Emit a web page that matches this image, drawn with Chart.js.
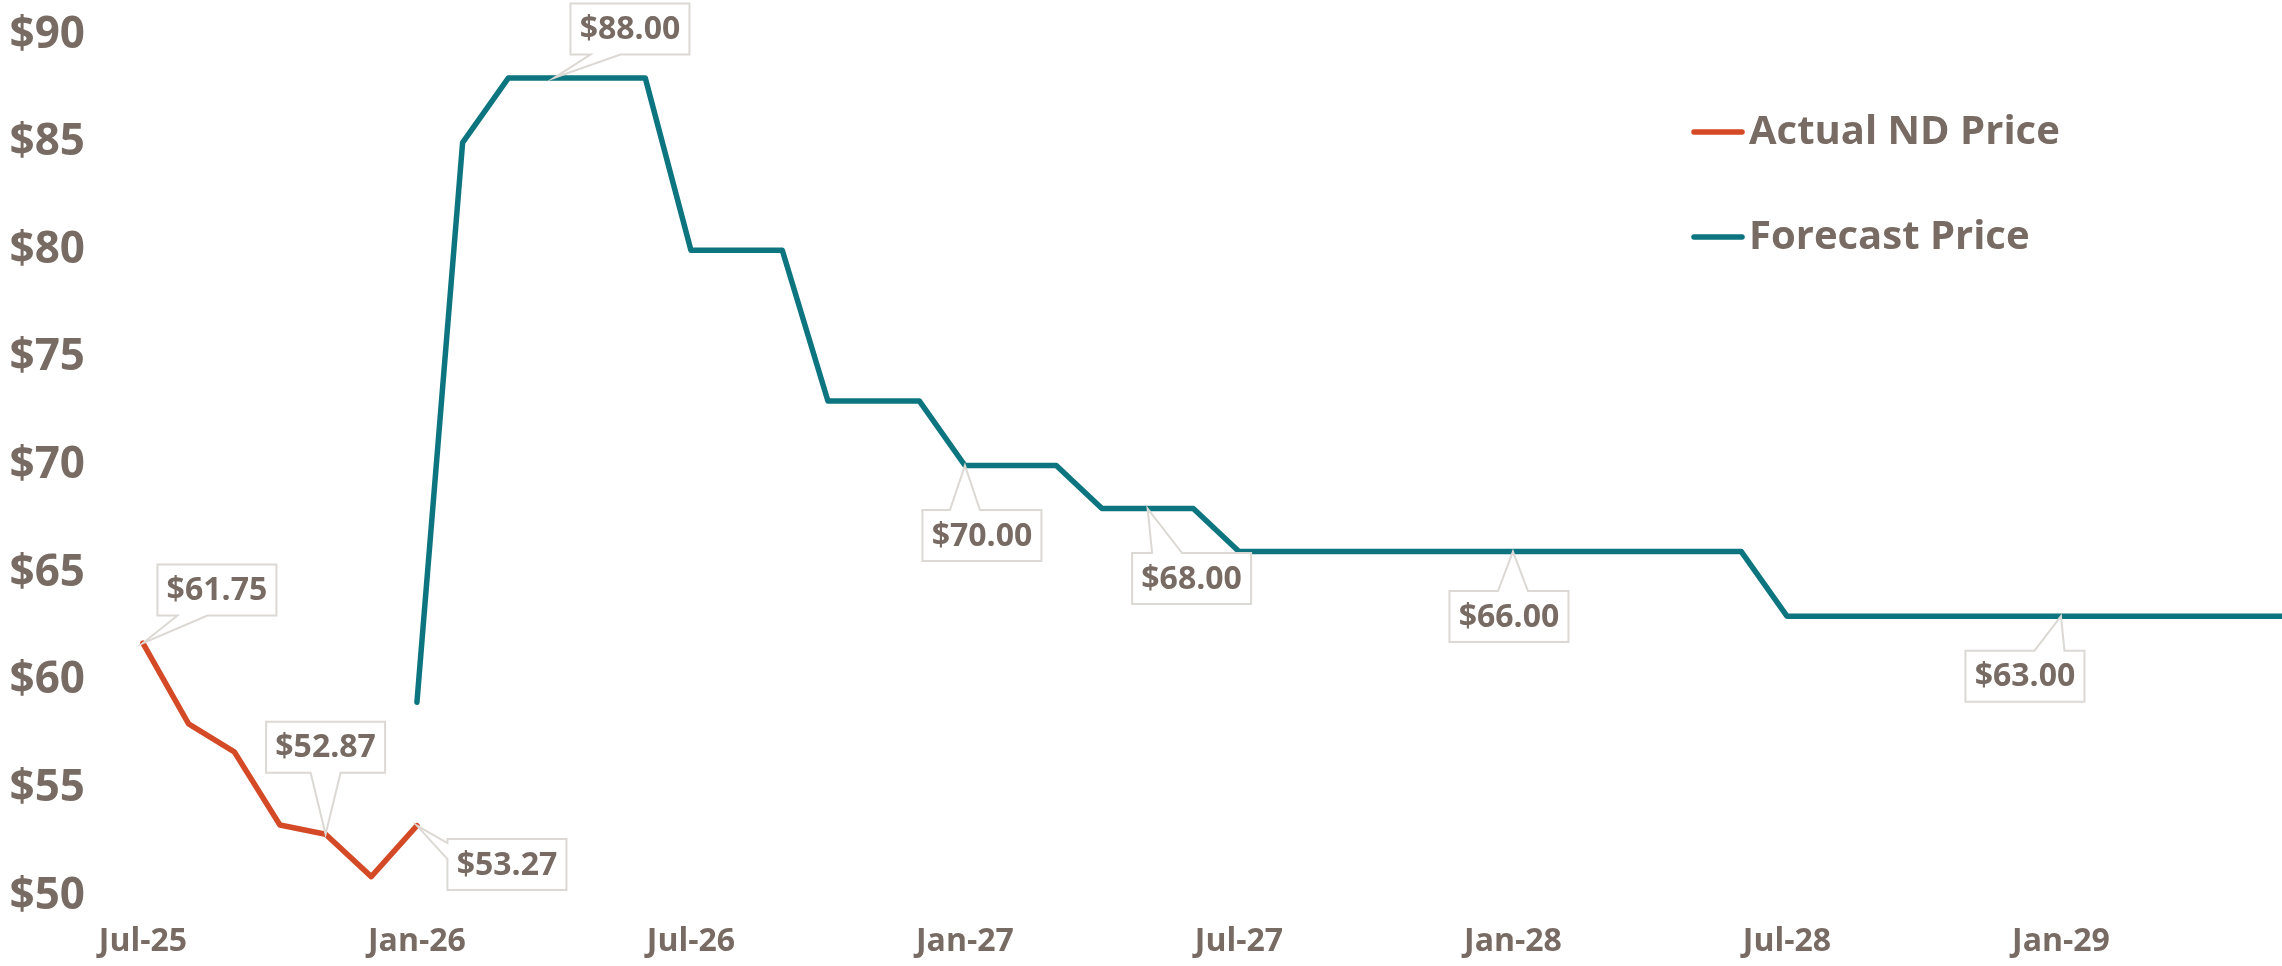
<!DOCTYPE html>
<html lang="en">
<head>
<meta charset="UTF-8">
<title>ND Price</title>
<script src="https://cdn.jsdelivr.net/npm/chart.js"></script>
<style>
  html, body { margin: 0; padding: 0; background: #ffffff; overflow: hidden; }
</style>
</head>
<body>
<canvas id="priceChart" width="2282" height="966"></canvas>
<script>
// monthly axis, Jul-25 .. Jun-29
var months = [
  'Jul-25','Aug-25','Sep-25','Oct-25','Nov-25','Dec-25',
  'Jan-26','Feb-26','Mar-26','Apr-26','May-26','Jun-26',
  'Jul-26','Aug-26','Sep-26','Oct-26','Nov-26','Dec-26',
  'Jan-27','Feb-27','Mar-27','Apr-27','May-27','Jun-27',
  'Jul-27','Aug-27','Sep-27','Oct-27','Nov-27','Dec-27',
  'Jan-28','Feb-28','Mar-28','Apr-28','May-28','Jun-28',
  'Jul-28','Aug-28','Sep-28','Oct-28','Nov-28','Dec-28',
  'Jan-29','Feb-29','Mar-29','Apr-29','May-29','Jun-29'
];

var actualPrice = [61.75, 58.0, 56.7, 53.3, 52.87, 50.9, 53.27];

var forecastPrice = [
  null, null, null, null, null, null,
  59, 85, 88, 88, 88, 88,
  80, 80, 80, 73, 73, 73,
  70, 70, 70, 68, 68, 68,
  66, 66, 66, 66, 66, 66,
  66, 66, 66, 66, 66, 66,
  63, 63, 63, 63, 63, 63,
  63, 63, 63, 63, 63, 63
];

var yTicks = [50, 55, 60, 65, 70, 75, 80, 85, 90];
var xTickMonths = ['Jul-25', 'Jan-26', 'Jul-26', 'Jan-27', 'Jul-27', 'Jan-28', 'Jul-28', 'Jan-29'];

// which points get a value callout
var labelledActual = ['Jul-25', 'Nov-25', 'Jan-26'];
var labelledForecast = ['Apr-26', 'Jan-27', 'May-27', 'Jan-28', 'Jan-29'];

// callout box offsets from the point (px)
var calloutOffsets = {
  'actual:Jul-25': [74, -53],
  'actual:Nov-25': [0, -87],
  'actual:Jan-26': [90, 39],
  'forecast:Apr-26': [76, -49],
  'forecast:Jan-27': [17, 70],
  'forecast:May-27': [44, 70],
  'forecast:Jan-28': [-4, 65],
  'forecast:Jan-29': [-36, 60]
};

var textColor = '#776b63';
var fontFamily = '"Open Sans", "Noto Sans", sans-serif';

function toPoints(arr) {
  return months.map(function (m, i) {
    return { x: i, y: (i < arr.length && arr[i] !== null) ? arr[i] : null };
  });
}

function clamp(v, a, b) { return Math.max(a, Math.min(b, v)); }

function calloutPath(ctx, L, T, W, H, px, py) {
  var R = L + W, B = T + H, cx = L + W / 2, cy = T + H / 2;
  var ox = Math.max(0, Math.abs(px - cx) - W / 2);
  var oy = Math.max(0, Math.abs(py - cy) - H / 2);
  var edge;
  if (oy >= ox) edge = py < cy ? 'top' : 'bottom';
  else edge = px < cx ? 'left' : 'right';
  var c;
  ctx.beginPath();
  ctx.moveTo(L, T);
  if (edge === 'top') { c = clamp(px, L + 35, R - 35); ctx.lineTo(c - 15, T); ctx.lineTo(px, py); ctx.lineTo(c + 15, T); }
  ctx.lineTo(R, T);
  if (edge === 'right') { c = clamp(py, T + 12, B - 12); ctx.lineTo(R, c - 8); ctx.lineTo(px, py); ctx.lineTo(R, c + 8); }
  ctx.lineTo(R, B);
  if (edge === 'bottom') { c = clamp(px, L + 35, R - 35); ctx.lineTo(c + 15, B); ctx.lineTo(px, py); ctx.lineTo(c - 15, B); }
  ctx.lineTo(L, B);
  if (edge === 'left') { c = clamp(py, T + 12, B - 12); ctx.lineTo(L, c + 8); ctx.lineTo(px, py); ctx.lineTo(L, c - 8); }
  ctx.closePath();
}

var calloutPlugin = {
  id: 'callouts',
  afterDatasetsDraw: function (chart) {
    var ctx = chart.ctx;
    var xs = chart.scales.x, ys = chart.scales.y;
    var groups = [['actual', actualPrice, labelledActual], ['forecast', forecastPrice, labelledForecast]];
    ctx.save();
    ctx.font = 'bold 32px ' + fontFamily;
    groups.forEach(function (g) {
      g[2].forEach(function (m) {
        var i = months.indexOf(m);
        var v = g[1][i];
        var px = xs.getPixelForValue(i), py = ys.getPixelForValue(v);
        var off = calloutOffsets[g[0] + ':' + m];
        var w = 119, h = 51;
        var L = px + off[0] - w / 2, T = py + off[1] - h / 2;
        calloutPath(ctx, L, T, w, h, px, py);
        ctx.fillStyle = '#ffffff';
        ctx.fill();
        ctx.lineWidth = 2;
        ctx.strokeStyle = '#dcd8d4';
        ctx.stroke();
        ctx.fillStyle = textColor;
        ctx.textAlign = 'center';
        ctx.textBaseline = 'middle';
        ctx.fillText('$' + v.toFixed(2), L + w / 2, T + h / 2 + 1);
      });
    });
    ctx.restore();
  }
};

var legendPlugin = {
  id: 'sideLegend',
  afterDraw: function (chart) {
    var ctx = chart.ctx;
    var rows = [132, 237];
    ctx.save();
    ctx.font = 'bold 40px ' + fontFamily;
    ctx.textAlign = 'left';
    ctx.textBaseline = 'middle';
    chart.data.datasets.forEach(function (ds, k) {
      var y = rows[k];
      ctx.strokeStyle = ds.borderColor;
      ctx.lineWidth = 5.5;
      ctx.lineCap = 'round';
      ctx.beginPath();
      ctx.moveTo(1694, y);
      ctx.lineTo(1742, y);
      ctx.stroke();
      ctx.fillStyle = textColor;
      ctx.fillText(ds.label, 1749, y + 1);
    });
    ctx.restore();
  }
};

new Chart(document.getElementById('priceChart'), {
  type: 'line',
  data: {
    datasets: [
      {
        label: 'Actual ND Price',
        data: toPoints(actualPrice),
        borderColor: '#d54a26',
        backgroundColor: '#d54a26'
      },
      {
        label: 'Forecast Price',
        data: toPoints(forecastPrice),
        borderColor: '#0c7580',
        backgroundColor: '#0c7580'
      }
    ]
  },
  options: {
    responsive: false,
    animation: false,
    devicePixelRatio: 1,
    layout: { padding: { top: 35, left: 0, right: 0, bottom: 0 } },
    elements: {
      line: { borderWidth: 5.5, tension: 0, borderJoinStyle: 'round', borderCapStyle: 'round' },
      point: { radius: 0, hoverRadius: 0 }
    },
    plugins: {
      legend: { display: false },
      tooltip: { enabled: false }
    },
    scales: {
      x: {
        type: 'linear',
        min: -0.94,
        max: 46.84,
        grid: { display: false, drawTicks: false },
        border: { display: false },
        afterFit: function (s) {
          s.height = 70;
          s.paddingLeft = 0;
          s.paddingRight = 0;
        },
        afterBuildTicks: function (s) {
          s.ticks = xTickMonths.map(function (m) { return { value: months.indexOf(m) }; });
        },
        ticks: {
          padding: 27,
          maxRotation: 0,
          autoSkip: false,
          color: textColor,
          font: { family: fontFamily, size: 32, weight: 'bold' },
          callback: function (v) { return months[v]; }
        }
      },
      y: {
        min: 50,
        max: 90,
        grid: { display: false, drawTicks: false },
        border: { display: false },
        afterFit: function (s) {
          s.width = 100;
          s.paddingTop = 0;
          s.paddingBottom = 0;
        },
        afterBuildTicks: function (s) {
          s.ticks = yTicks.map(function (v) { return { value: v }; });
        },
        ticks: {
          padding: 15,
          color: textColor,
          font: { family: fontFamily, size: 44, weight: 'bold' },
          callback: function (v) { return '$' + v; }
        }
      }
    }
  },
  plugins: [calloutPlugin, legendPlugin]
});
</script>
</body>
</html>
